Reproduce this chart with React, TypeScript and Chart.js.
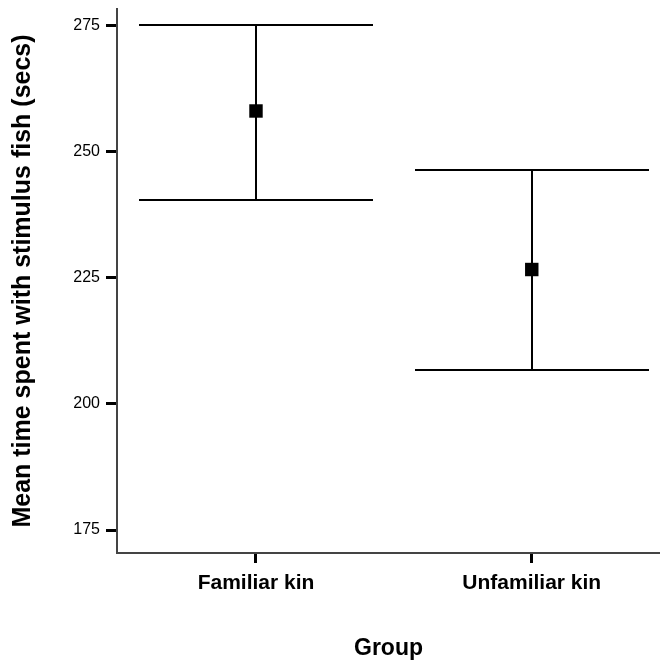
import React, { useEffect, useRef } from 'react';
import { Chart, registerables } from 'chart.js';

Chart.register(...registerables);

const categories = ['Familiar kin', 'Unfamiliar kin'];
const means = [258.0, 226.6];
const upper = [275.0, 246.4];
const lower = [240.3, 206.7];
const yTickValues = [175, 200, 225, 250, 275];
const xTickValues = [0, 1];

const CAP_HALF = 117;

const errorBarPlugin = {
  id: 'errorBars',
  beforeDatasetsDraw(chart: any) {
    const { ctx, scales } = chart;
    const x = scales.x;
    const y = scales.y;
    ctx.save();
    ctx.strokeStyle = '#000';
    ctx.lineWidth = 2;
    categories.forEach((_, i) => {
      const px = Math.round(x.getPixelForValue(i));
      const yU = Math.round(y.getPixelForValue(upper[i]));
      const yL = Math.round(y.getPixelForValue(lower[i]));
      ctx.beginPath();
      ctx.moveTo(px, yU);
      ctx.lineTo(px, yL);
      ctx.moveTo(px - CAP_HALF, yU);
      ctx.lineTo(px + CAP_HALF, yU);
      ctx.moveTo(px - CAP_HALF, yL);
      ctx.lineTo(px + CAP_HALF, yL);
      ctx.stroke();
    });
    ctx.restore();
  },
};

const zeroPad = (s: any) => {
  s.paddingTop = 0;
  s.paddingBottom = 0;
  s.paddingLeft = 0;
  s.paddingRight = 0;
};

export default function App() {
  const ref = useRef<HTMLCanvasElement>(null);

  useEffect(() => {
    document.body.style.margin = '0';
    const canvas = ref.current;
    if (!canvas) return;
    const chart = new Chart(canvas, {
      type: 'scatter',
      data: {
        datasets: [
          {
            data: means.map((m, i) => ({ x: i, y: m })),
            pointStyle: 'rect',
            pointRadius: 9.5,
            pointBackgroundColor: '#000',
            pointBorderColor: '#000',
            pointBorderWidth: 0,
          },
        ],
      },
      options: {
        animation: false,
        responsive: true,
        maintainAspectRatio: false,
        layout: { autoPadding: false, padding: { top: 9, left: 0, right: 0, bottom: 0 } },
        plugins: {
          legend: { display: false },
          tooltip: { enabled: false },
        },
        scales: {
          x: {
            type: 'linear',
            min: -0.504,
            max: 1.465,
            afterFit: (s: any) => {
              s.height = 115;
              zeroPad(s);
            },
            afterBuildTicks: (s: any) => {
              s.ticks = xTickValues.map((v) => ({ value: v }));
            },
            border: { display: true, color: '#444', width: 2 },
            grid: {
              display: true,
              drawOnChartArea: false,
              drawTicks: true,
              tickLength: 10,
              tickWidth: 3,
              tickColor: '#000',
            },
            ticks: {
              color: '#000',
              padding: 8,
              maxRotation: 0,
              autoSkip: false,
              font: { family: 'Liberation Sans, Arial, sans-serif', size: 21, weight: 'bold' },
              callback: (v: any) => categories[v as number] ?? '',
            },
            title: {
              display: true,
              text: 'Group',
              color: '#000',
              font: { family: 'Liberation Sans, Arial, sans-serif', size: 23, weight: 'bold' },
              padding: { top: 0, bottom: 6 },
            },
          },
          y: {
            type: 'linear',
            min: 170.45,
            max: 278.2,
            afterFit: (s: any) => {
              s.width = 117;
              zeroPad(s);
            },
            afterBuildTicks: (s: any) => {
              s.ticks = yTickValues.map((v) => ({ value: v }));
            },
            border: { display: true, color: '#444', width: 2 },
            grid: {
              display: true,
              drawOnChartArea: false,
              drawTicks: true,
              tickLength: 11,
              tickWidth: 3,
              tickColor: '#000',
            },
            ticks: {
              color: '#000',
              padding: 6,
              font: { family: 'Liberation Sans, Arial, sans-serif', size: 16 },
            },
            title: {
              display: true,
              text: 'Mean time spent with stimulus fish (secs)',
              color: '#000',
              font: { family: 'Liberation Sans, Arial, sans-serif', size: 25, weight: 'bold' },
              padding: { top: 8, bottom: 0 },
            },
          },
        },
      },
      plugins: [errorBarPlugin],
    });
    return () => chart.destroy();
  }, []);

  return (
    <div style={{ position: 'relative', width: 660, height: 668 }}>
      <canvas ref={ref} />
    </div>
  );
}
